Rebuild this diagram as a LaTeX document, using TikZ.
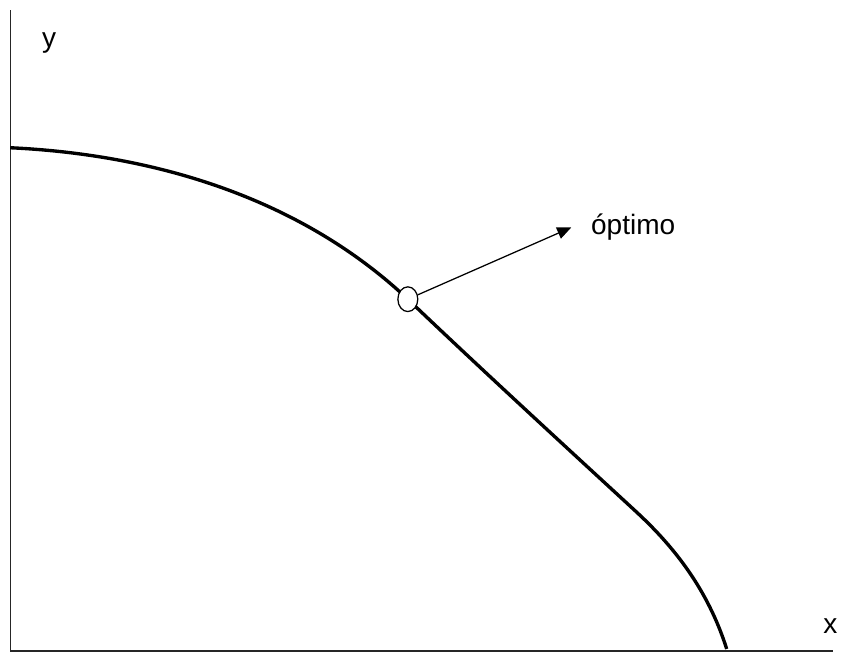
\documentclass[tikz,border=0pt]{standalone}
\usepackage{fontspec}
\setmainfont{Liberation Sans}
\usetikzlibrary{arrows.meta,shapes.geometric}

\begin{document}
\begin{tikzpicture}[
  every node/.style={font=\fontsize{20}{24}\selectfont},
  axis/.style={line width=0.9pt, draw=black!85},
  curve/.style={line width=2.4pt, line join=round},
  marker/.style={ellipse, draw=black, fill=white, line width=0.9pt, minimum width=0.5cm, minimum height=0.62cm, inner sep=0pt},
  arrow/.style={-{Triangle[length=10pt,width=8.5pt]}, line width=0.9pt},
]

\draw[white] (0,0) rectangle (21.05,16.375);

\coordinate (top) at (0.2625,16.125);
\coordinate (origin) at (0.2625,0.05);
\coordinate (right) at (20.9,0.05);
\draw[axis] (top) -- (origin) -- (right);

\node[anchor=base] (ylab) at (1.225,15.2) {y};
\node[anchor=base] (xlab) at (20.825,0.5) {x};

\coordinate (c0) at (0.25,12.675);
\coordinate (c1) at (10.225,8.875);
\coordinate (c2) at (16.0,3.5);
\coordinate (c3) at (18.225,0.1);
\draw[curve] (c0) .. controls (4,12.5) and (7.6,11.35) .. (c1)
  .. controls (12.4,6.8) and (15.3,4.15) .. (c2)
  .. controls (16.9,2.66) and (17.75,1.6) .. (c3);

\node[marker] (opt) at (c1) {};

\node[anchor=west, inner xsep=14pt, inner ysep=0pt] (lbl) at (14.325,10.675) {óptimo};

\draw[arrow] (opt) -- (lbl.west);

\end{tikzpicture}
\end{document}
